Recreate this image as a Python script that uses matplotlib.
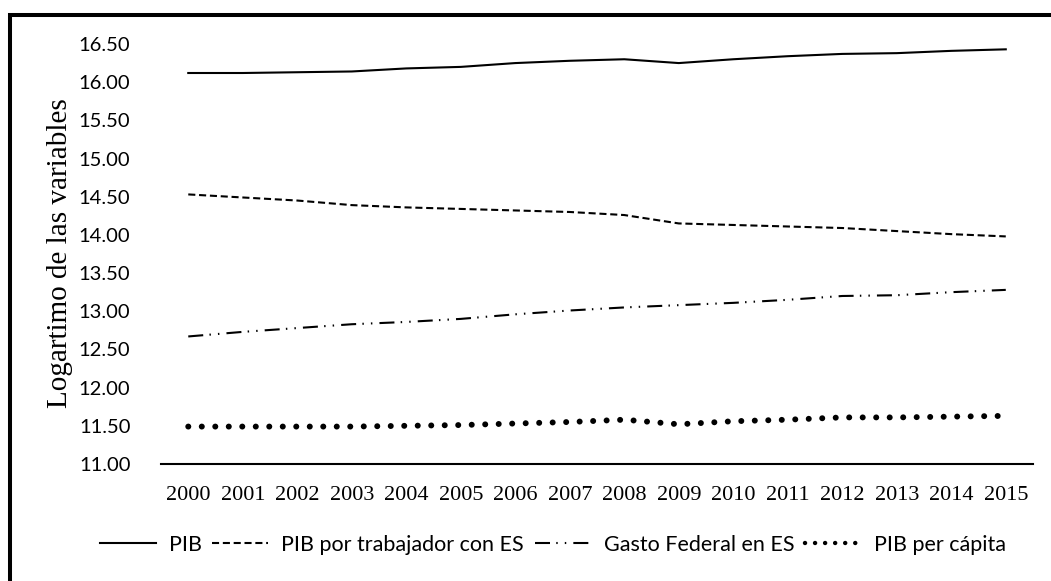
import matplotlib
matplotlib.use("Agg")
import matplotlib.pyplot as plt
from matplotlib.patches import Rectangle

years = ["2000", "2001", "2002", "2003", "2004", "2005", "2006", "2007",
         "2008", "2009", "2010", "2011", "2012", "2013", "2014", "2015"]

pib = [16.12, 16.12, 16.13, 16.14, 16.18, 16.20, 16.25, 16.28,
       16.30, 16.25, 16.30, 16.34, 16.37, 16.38, 16.41, 16.43]
pib_trabajador = [14.53, 14.49, 14.45, 14.39, 14.36, 14.34, 14.32, 14.30,
                  14.26, 14.15, 14.13, 14.11, 14.09, 14.05, 14.01, 13.98]
gasto_federal = [12.67, 12.73, 12.78, 12.83, 12.86, 12.90, 12.96, 13.01,
                 13.05, 13.08, 13.11, 13.15, 13.20, 13.21, 13.25, 13.28]
pib_per_capita = [11.49, 11.49, 11.49, 11.49, 11.50, 11.51, 11.53, 11.55,
                  11.58, 11.52, 11.56, 11.58, 11.61, 11.61, 11.62, 11.63]

y_ticks = [11.0, 11.5, 12.0, 12.5, 13.0, 13.5, 14.0, 14.5, 15.0, 15.5, 16.0, 16.5]

sans = ["Lato", "DejaVu Sans"]
serif = ["Liberation Serif", "DejaVu Serif"]

fig = plt.figure(figsize=(10.51, 5.81), dpi=100)
ax = fig.add_axes([0.1532, 0.2014, 0.8297, 0.7229])

x = list(range(len(years)))

ax.plot(x, pib, color="black", lw=1.5, label="PIB")
ax.plot(x, pib_trabajador, color="black", lw=1.5,
        linestyle=(0, (3.4, 1.8)), label="PIB por trabajador con ES")
ax.plot(x, gasto_federal, color="black", lw=1.5,
        linestyle=(0, (7.2, 3.0, 0.7, 3.4, 0.7, 3.4)),
        label="Gasto Federal en ES")
ax.plot(x, pib_per_capita, color="black", lw=4.3,
        linestyle=(0, (0.01, 2.25)), dash_capstyle="round",
        label="PIB per cápita")

ax.set_xlim(-0.5, len(years) - 0.5)
ax.set_ylim(11.0, 16.5)
ax.set_xticks(x)
ax.set_xticklabels(years, family=serif, fontsize=16)
ax.set_yticks(y_ticks)
ax.set_yticklabels(["%.2f" % v for v in y_ticks], family=sans, fontsize=14.5)
ax.tick_params(axis="both", length=0)
ax.tick_params(axis="x", pad=16)
ax.tick_params(axis="y", pad=22)

for side in ["top", "right", "left"]:
    ax.spines[side].set_visible(False)
ax.spines["bottom"].set_linewidth(1.5)
ax.spines["bottom"].set_color("black")

fig.text(0.057, 0.565, "Logartimo de las variables", rotation=90,
         family=serif, fontsize=21, ha="center", va="center")

leg = fig.legend(loc="center", bbox_to_anchor=(0.526, 0.062), ncol=4,
                 frameon=False, prop={"family": sans, "size": 15.5},
                 handlelength=2.6, handletextpad=0.6, columnspacing=0.5)
leg.legend_handles[3].set_linewidth(3.2)

frame = Rectangle((10 / 1051, -0.1), 1.2, 1.1 - 15 / 581,
                  transform=fig.transFigure, fill=False,
                  edgecolor="black", linewidth=2.9, clip_on=False)
fig.patches.append(frame)

fig.savefig("out.png", dpi=100, facecolor="white")
